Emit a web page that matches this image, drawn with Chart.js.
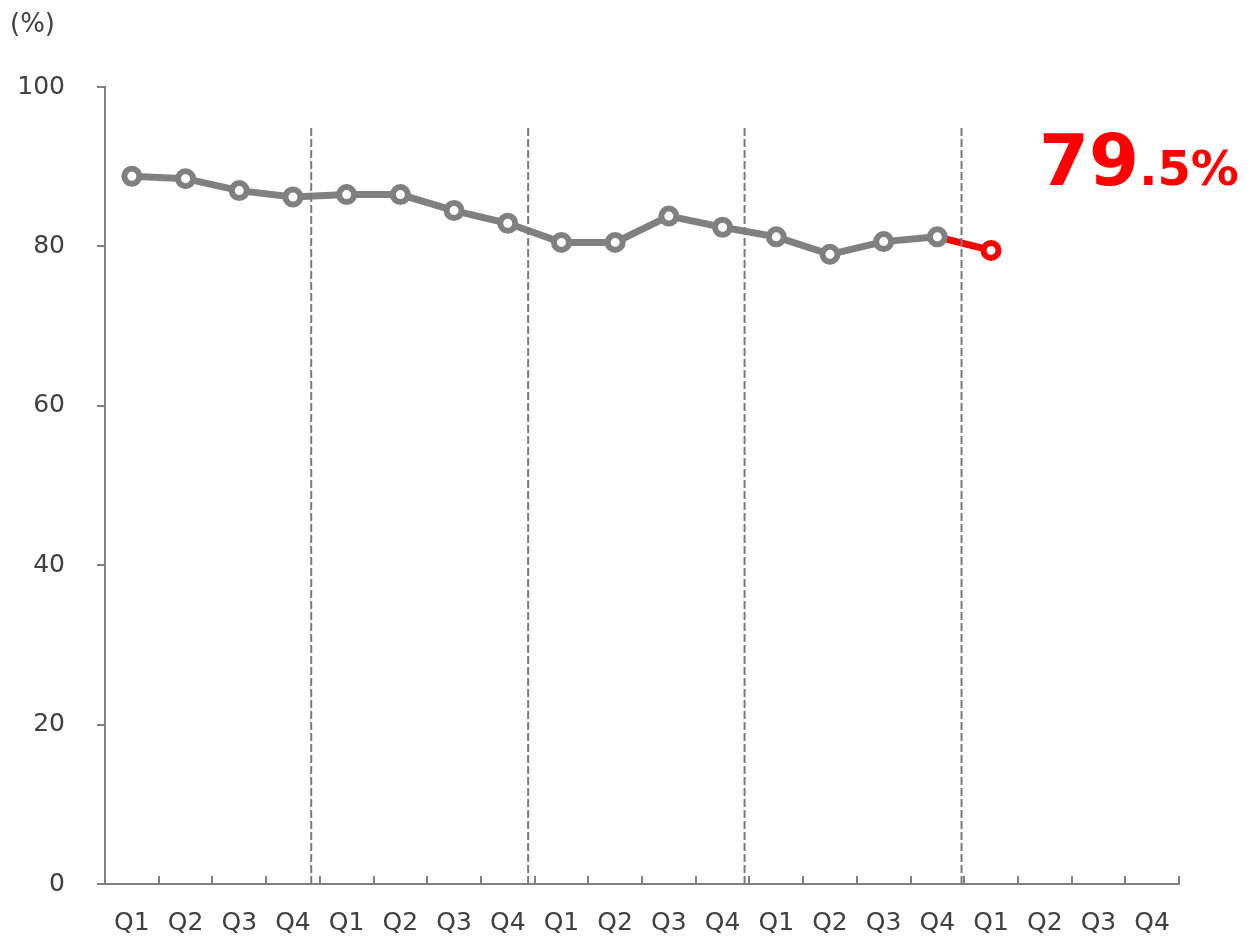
<!DOCTYPE html>
<html>
<head>
<meta charset="utf-8">
<script src="https://cdn.jsdelivr.net/npm/chart.js@4.4.1/dist/chart.umd.min.js"></script>
<style>
html,body{margin:0;padding:0;background:#fff;}
#wrap{width:1251px;height:936px;position:relative;}
</style>
</head>
<body>
<div id="wrap"><canvas id="c" width="1251" height="936"></canvas></div>
<script>
const categories = ['Q1','Q2','Q3','Q4','Q1','Q2','Q3','Q4','Q1','Q2','Q3','Q4','Q1','Q2','Q3','Q4','Q1','Q2','Q3','Q4'];
const values = [88.8, 88.5, 87.0, 86.2, 86.5, 86.5, 84.5, 82.9, 80.5, 80.5, 83.8, 82.4, 81.2, 79.0, 80.6, 81.2, 79.5, null, null, null];
const highlightIndex = 16;
const dividerPositions = [3.34, 7.38, 11.41, 15.45];
const dividerTop = 95;
const yTicks = [0, 20, 40, 60, 80, 100];
const unitLabel = '(%)';
const bigValue = '79';
const smallValue = '.5%';

const GRAY = '#808080';
const RED = '#ff0000';
const TEXT = '#404040';
const FONT = 'DejaVu Sans, Verdana, sans-serif';

const pointColors = values.map((v, i) => i === highlightIndex ? RED : GRAY);

const dividerSets = dividerPositions.map(p => ({
  type: 'line',
  data: [{x: p, y: 0}, {x: p, y: dividerTop}],
  xAxisID: 'xd',
  borderColor: '#7a7a7a',
  borderWidth: 2,
  borderDash: [8, 3],
  pointRadius: 0,
  fill: false,
  order: 0
}));

const textPlugin = {
  id: 'texts',
  afterDraw(chart) {
    const ctx = chart.ctx;
    ctx.save();
    ctx.fillStyle = TEXT;
    ctx.font = '26px ' + FONT;
    ctx.textBaseline = 'middle';
    ctx.textAlign = 'left';
    ctx.fillText(unitLabel, 10, 25);
    ctx.fillStyle = RED;
    ctx.textBaseline = 'alphabetic';
    ctx.font = 'bold 72px ' + FONT;
    const x0 = 1039;
    ctx.fillText(bigValue, x0, 185);
    const w = ctx.measureText(bigValue).width;
    ctx.font = 'bold 48px ' + FONT;
    ctx.fillText(smallValue, x0 + w, 185);
    ctx.restore();
  }
};

new Chart(document.getElementById('c'), {
  type: 'line',
  data: {
    labels: categories,
    datasets: [
      {
        data: values,
        borderColor: GRAY,
        borderWidth: 7,
        segment: {
          borderColor: ctx => ctx.p1DataIndex === highlightIndex ? RED : GRAY
        },
        pointRadius: 7.5,
        pointBorderWidth: 6,
        pointBackgroundColor: '#ffffff',
        pointBorderColor: pointColors,
        fill: false,
        spanGaps: false,
        tension: 0,
        order: 1
      },
      ...dividerSets
    ]
  },
  options: {
    responsive: false,
    animation: false,
    devicePixelRatio: 1,
    layout: { padding: { left: 0, top: 87, right: 72, bottom: 0 } },
    plugins: { legend: { display: false }, tooltip: { enabled: false }, title: { display: false } },
    scales: {
      x: {
        type: 'category',
        offset: true,
        grid: { offset: true, drawOnChartArea: false, drawTicks: true, tickLength: -8, color: GRAY, lineWidth: 2 },
        border: { display: true, color: GRAY, width: 2 },
        ticks: { color: TEXT, font: { family: FONT, size: 25 }, padding: 32, maxRotation: 0, autoSkip: false },
        afterFit: s => { s.height = 52; }
      },
      xd: {
        type: 'linear',
        display: false,
        min: -0.5,
        max: 19.5
      },
      y: {
        type: 'linear',
        min: 0,
        max: 100,
        afterBuildTicks: s => { s.ticks = yTicks.map(v => ({ value: v })); },
        grid: { drawOnChartArea: false, drawTicks: true, tickLength: 8, color: GRAY, lineWidth: 2 },
        border: { display: true, color: GRAY, width: 2 },
        ticks: { color: TEXT, font: { family: FONT, size: 25 }, padding: 32 },
        afterFit: s => { s.width = 105; }
      }
    }
  },
  plugins: [textPlugin]
});
</script>
</body>
</html>
